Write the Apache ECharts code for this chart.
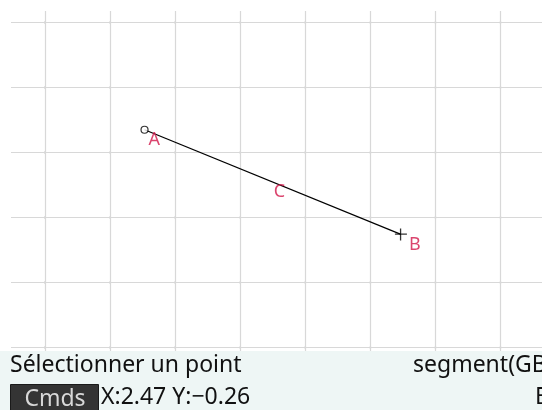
<!DOCTYPE html>
<html><head><meta charset="utf-8">
<script src="https://cdn.jsdelivr.net/npm/echarts@6/dist/echarts.min.js"></script>
<style>html,body{margin:0;padding:0;background:#fff}#c{width:542px;height:410px}</style>
</head><body><div id="c"></div>
<script>
// grid values (calculator units)
const gridX = [-3, -2, -1, 0, 1, 2, 3, 4];
const gridY = [-2, -1, 0, 1, 2, 3];
// geometry points
const pointNames = ['A', 'B', 'C'];
const pointX = [-1.47, 2.47, 0.50];
const pointY = [1.35, -0.26, 0.545];
// segment endpoints (names)
const segment = ['A', 'B'];
// status texts
const statusLine1 = 'Sélectionner un point';
const statusRight1 = 'segment(GB';
const statusLine2 = 'X:2.47 Y:\u22120.26';
const statusRight2 = 'E';
const buttonText = 'Cmds';

const FONT = '"Noto Sans", "Open Sans", sans-serif';
const idx = n => pointNames.indexOf(n);
const P = n => [pointX[idx(n)], pointY[idx(n)]];

const labelDx = {A: 4, B: 8, C: 1};
const symbolFor = {
  A: {symbol: 'circle', size: 7, color: '#fff', border: '#000'},
  B: {symbol: 'path://M5,0h1.3v12h-1.3zM0,5h12v1.3h-12z', size: 12, color: '#000', border: null},
  C: {symbol: 'circle', size: 0, color: 'transparent', border: null}
};

const intersections = [];
gridX.forEach(x => gridY.forEach(y => intersections.push([x, y])));

const chart = echarts.init(document.getElementById('c'), null, {renderer: 'canvas'});
chart.setOption({
  animation: false,
  grid: {left: 11, right: 0, top: 11, bottom: 59},
  xAxis: {type: 'value', min: -3.522, max: 4.638, show: false, splitLine: {show: false}},
  yAxis: {type: 'value', min: -2.054, max: 3.177, show: false, splitLine: {show: false}},
  series: [
    {
      type: 'line', data: [], silent: true, z: 1,
      markLine: {
        silent: true, symbol: 'none', animation: false,
        label: {show: false},
        lineStyle: {color: '#d8d8d8', width: 1.2, type: 'solid'},
        data: gridX.map(v => ({xAxis: v})).concat(gridY.map(v => ({yAxis: v})))
      }
    },
    {
      type: 'scatter', data: intersections, symbolSize: 2, silent: true, z: 2,
      itemStyle: {color: '#9a9a9a'}
    },
    {
      type: 'line', data: segment.map(P), symbol: 'none', silent: true, z: 5,
      lineStyle: {color: '#000', width: 1.2}
    },
    {
      type: 'scatter', silent: true, z: 6,
      data: pointNames.map(n => ({
        value: P(n), name: n,
        symbol: symbolFor[n].symbol, symbolSize: symbolFor[n].size,
        itemStyle: {color: symbolFor[n].color, borderColor: symbolFor[n].border || 'transparent', borderWidth: symbolFor[n].border ? 1.2 : 0},
        label: {show: true, formatter: n, position: 'inside', align: 'left', verticalAlign: 'middle',
          offset: [labelDx[n], 10], color: '#d2174a', fontSize: 18, fontFamily: FONT}
      }))
    }
  ],
  graphic: [
    {type: 'rect', left: 0, top: 351, shape: {width: 542, height: 59}, style: {fill: '#eef6f5'}, silent: true, z: 0},
    {type: 'text', left: 10, top: 354, style: {text: statusLine1, fill: '#111', font: '23px ' + FONT}},
    {type: 'text', left: 413, top: 354, style: {text: statusRight1, fill: '#111', font: '23px ' + FONT}},
    {type: 'rect', left: 10, top: 384, shape: {width: 88, height: 26}, style: {fill: '#343434', stroke: '#1a1a1a', lineWidth: 1}},
    {type: 'text', x: 55, y: 399, style: {text: buttonText, fill: '#d8d8d8', font: '23px ' + FONT, textAlign: 'center', textVerticalAlign: 'middle'}},
    {type: 'text', left: 101, top: 386, style: {text: statusLine2, fill: '#111', font: '23px ' + FONT}},
    {type: 'text', left: 535, top: 386, style: {text: statusRight2, fill: '#111', font: '23px ' + FONT}}
  ]
});
</script></body></html>
